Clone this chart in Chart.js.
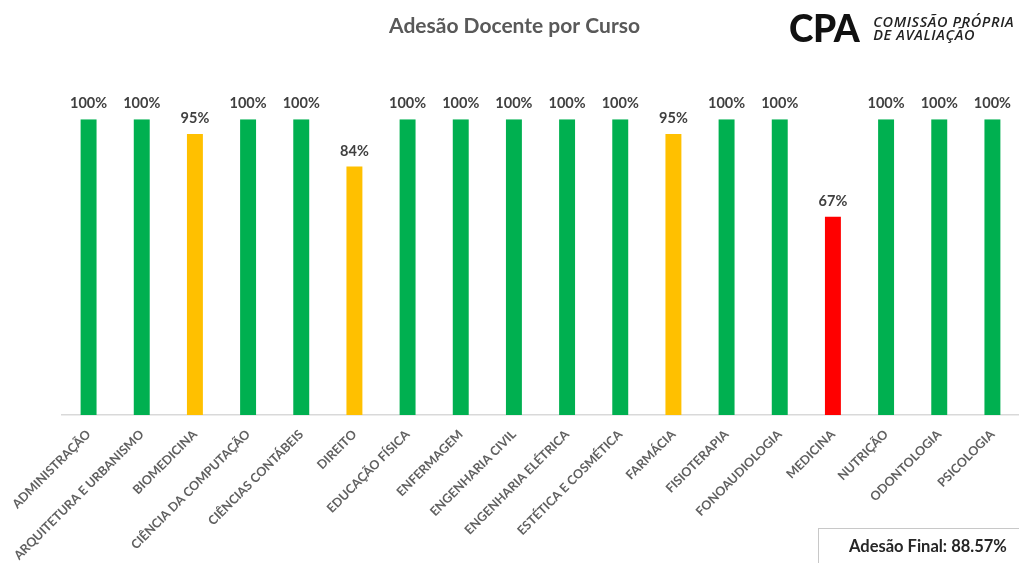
<!DOCTYPE html>
<html>
<head>
<meta charset="utf-8">
<script src="https://cdn.jsdelivr.net/npm/chart.js@4"></script>
<style>
  html, body { margin: 0; padding: 0; background: #fff; }
  #wrap { position: relative; width: 1019px; height: 563px; overflow: hidden; }
  #logo { position: absolute; left: 789px; top: 8px; display: flex; align-items: center; }
  #logo .big { font-family: Lato, sans-serif; font-weight: 900; font-size: 37px; color: #111; letter-spacing: -0.5px; line-height: 40px; }
  #logo .small { margin-left: 14px; font-family: "Open Sans", sans-serif; font-style: italic; font-weight: 600; font-size: 14.5px; line-height: 13px; color: #222; letter-spacing: 0.6px; }
  #final { position: absolute; left: 818px; top: 528px; width: 210px; height: 36px; border: 1px solid #c8c8c8; box-sizing: border-box;
           font-family: Lato, sans-serif; font-weight: 700; font-size: 16.5px; color: #262626; line-height: 34px; padding-left: 30px; }
</style>
</head>
<body>
<div id="wrap">
  <canvas id="adesao" width="1019" height="563"></canvas>
  <div id="logo"><span class="big">CPA</span><span class="small">COMISSÃO PRÓPRIA<br>DE AVALIAÇÃO</span></div>
  <div id="final">Adesão Final: 88.57%</div>
</div>
<script>
var cursos = ["ADMINISTRAÇÃO", "ARQUITETURA E URBANISMO", "BIOMEDICINA", "CIÊNCIA DA COMPUTAÇÃO",
  "CIÊNCIAS CONTÁBEIS", "DIREITO", "EDUCAÇÃO FÍSICA", "ENFERMAGEM", "ENGENHARIA CIVIL",
  "ENGENHARIA ELÉTRICA", "ESTÉTICA E COSMÉTICA", "FARMÁCIA", "FISIOTERAPIA", "FONOAUDIOLOGIA",
  "MEDICINA", "NUTRIÇÃO", "ODONTOLOGIA", "PSICOLOGIA"];
var adesao = [100, 100, 95, 100, 100, 84, 100, 100, 100, 100, 100, 95, 100, 100, 67, 100, 100, 100];

// cor por faixa de adesao
function corDaBarra(v) {
    if (v >= 100) return '#00B050';
    if (v >= 80) return '#FFC000';
    return '#FF0000';
}
var cores = adesao.map(corDaBarra);

// rotulos em cima das barras
var rotulos = {
    id: 'rotulos',
    afterDatasetsDraw: function (chart) {
        var ctx = chart.ctx;
        var meta = chart.getDatasetMeta(0);
        ctx.save();
        ctx.font = 'bold 14.5px Lato, sans-serif';
        ctx.fillStyle = '#404040';
        ctx.textAlign = 'center';
        ctx.textBaseline = 'alphabetic';
        meta.data.forEach(function (bar, i) {
            ctx.fillText(adesao[i] + '%', bar.x, bar.y - 11);
        });
        ctx.restore();
    }
};

var ctx = document.getElementById('adesao').getContext('2d');
var chart = new Chart(ctx, {
    type: 'bar',
    data: {
        labels: cursos,
        datasets: [{
            label: "Adesão Docente",
            backgroundColor: cores,
            borderWidth: 0,
            data: adesao,
            barPercentage: 0.6,
            categoryPercentage: 0.5
        }]
    },
    options: {
        responsive: false,
        animation: false,
        layout: { padding: { left: 10, right: 0, top: 0, bottom: 0 } },
        plugins: {
            legend: { display: false },
            tooltip: { enabled: false },
            title: {
                display: true,
                text: 'Adesão Docente por Curso',
                color: '#595959',
                font: { family: 'Lato, sans-serif', size: 21, weight: 'bold' },
                padding: { top: 14, bottom: 80 }
            }
        },
        scales: {
            x: {
                grid: { display: false },
                border: { color: '#d9d9d9', width: 1.5 },
                ticks: {
                    color: '#606060',
                    font: { family: 'Lato, sans-serif', size: 12.5, weight: 'bold' },
                    minRotation: 45,
                    maxRotation: 45,
                    autoSkip: false,
                    padding: 4
                },
                afterFit: function (scale) { scale.height = 148; }
            },
            y: {
                min: 0,
                max: 100,
                grid: { display: false },
                border: { display: false },
                ticks: { display: false },
                afterFit: function (scale) { scale.width = 52; }
            }
        }
    },
    plugins: [rotulos]
});
</script>
</body>
</html>
